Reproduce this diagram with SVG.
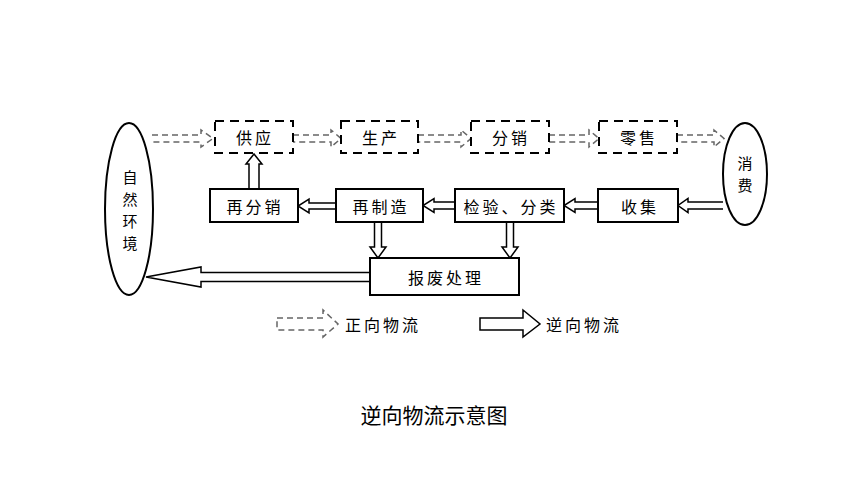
<svg xmlns="http://www.w3.org/2000/svg" width="860" height="484" viewBox="0 0 860 484">
<style>
.bg{fill:#fff}
.dbox{fill:#fff;stroke:#000;stroke-width:2;stroke-dasharray:9 6}
.box{fill:#fff;stroke:#000;stroke-width:2}
.ell{fill:#fff;stroke:#000;stroke-width:2}
.lbl{font-family:"Noto Sans CJK SC","Noto Sans",sans-serif;font-size:16px;fill:#000;text-anchor:middle;dominant-baseline:central;letter-spacing:3px}
.vl{font-family:"Noto Sans CJK SC","Noto Sans",sans-serif;font-size:15px;fill:#000;text-anchor:middle;dominant-baseline:central}
.fwd{fill:none;stroke:#666;stroke-width:1.5;stroke-dasharray:6 4}
.rev{fill:#fff;stroke:#000;stroke-width:1.5}
.leg{font-family:"Noto Sans CJK SC","Noto Sans",sans-serif;font-size:16px;fill:#000;dominant-baseline:central;letter-spacing:3px}
.cap{font-family:"Noto Sans CJK SC","Noto Sans",sans-serif;font-size:21px;fill:#000;text-anchor:middle;dominant-baseline:central}
</style>
<rect class="bg" x="0" y="0" width="860" height="484"/>
<g id="connectors">
<path class="fwd" d="M152,135 H201 V130 L213,138.5 L201,147 V142 H152"/>
<path class="fwd" d="M293,135 H331 V130 L341,138.5 L331,147 V142 H293"/>
<path class="fwd" d="M418,135 H461 V130 L471,138.5 L461,147 V142 H418"/>
<path class="fwd" d="M549,135 H589 V130 L599,138.5 L589,147 V142 H549"/>
<path class="fwd" d="M677,135 H714 V130 L724,138.5 L714,147 V142 H677"/>
<path class="rev" d="M723,202 H688 V198.5 L678,205.5 L688,212.5 V209 H723"/>
<path class="rev" d="M598,202 H575 V198.5 L564,205.5 L575,212.5 V209 H598"/>
<path class="rev" d="M455,202 H434 V198.5 L423,205.5 L434,212.5 V209 H455"/>
<path class="rev" d="M336,203 H309 V199 L298,206 L309,213 V209 H336"/>
<path class="rev" d="M370,272.5 H201 V267 L146,277 L201,287 V281.5 H370"/>
<path class="rev" d="M249,189 V164 H246 L254,154 L262,164 H259 V189"/>
<path class="rev" d="M374.5,222 V247 H370 L378,258 L386,247 H381.5 V222"/>
<path class="rev" d="M506.5,222 V247 H502 L510,258 L518,247 H513.5 V222"/>
</g>
<g id="n-nature"><ellipse class="ell" cx="129" cy="209" rx="24" ry="86"/>
<text class="vl" x="130" y="176">自</text><text class="vl" x="130" y="198">然</text><text class="vl" x="130" y="220">环</text><text class="vl" x="130" y="242">境</text></g>
<g id="n-consume"><ellipse class="ell" cx="745" cy="174" rx="22" ry="51"/>
<text class="vl" x="745" y="162">消</text><text class="vl" x="745" y="184">费</text></g>
<g id="n-supply"><rect class="dbox" x="215" y="121" width="78" height="32"/><text class="lbl" x="255" y="137">供应</text></g>
<g id="n-produce"><rect class="dbox" x="341" y="121" width="77" height="32"/><text class="lbl" x="381" y="137">生产</text></g>
<g id="n-distribute"><rect class="dbox" x="471" y="121" width="78" height="32"/><text class="lbl" x="511" y="137">分销</text></g>
<g id="n-retail"><rect class="dbox" x="599" y="121" width="78" height="32"/><text class="lbl" x="639" y="137">零售</text></g>
<g id="n-redistribute"><rect class="box" x="210" y="189" width="88" height="33"/><text class="lbl" x="255" y="205.5">再分销</text></g>
<g id="n-remanufacture"><rect class="box" x="336" y="189" width="87" height="33"/><text class="lbl" x="381" y="205.5">再制造</text></g>
<g id="n-inspect"><rect class="box" x="455" y="189" width="109" height="33"/><text class="lbl" x="511" y="205.5">检验、分类</text></g>
<g id="n-collect"><rect class="box" x="598" y="189" width="80" height="33"/><text class="lbl" x="640" y="205.5">收集</text></g>
<g id="n-scrap"><rect class="box" x="370" y="258" width="149" height="37"/><text class="lbl" x="446" y="276.5">报废处理</text></g>
<g id="legend">
<path class="fwd" d="M277,318 H323 V310 L338,324 L323,337 V330 H277 Z"/>
<text class="leg" x="345" y="324">正向物流</text>
<path class="rev" d="M480,318 H523 V310 L540,324 L523,337 V330 H480 Z"/>
<text class="leg" x="546" y="324">逆向物流</text>
</g>
<text class="cap" x="434" y="414">逆向物流示意图</text>
</svg>
